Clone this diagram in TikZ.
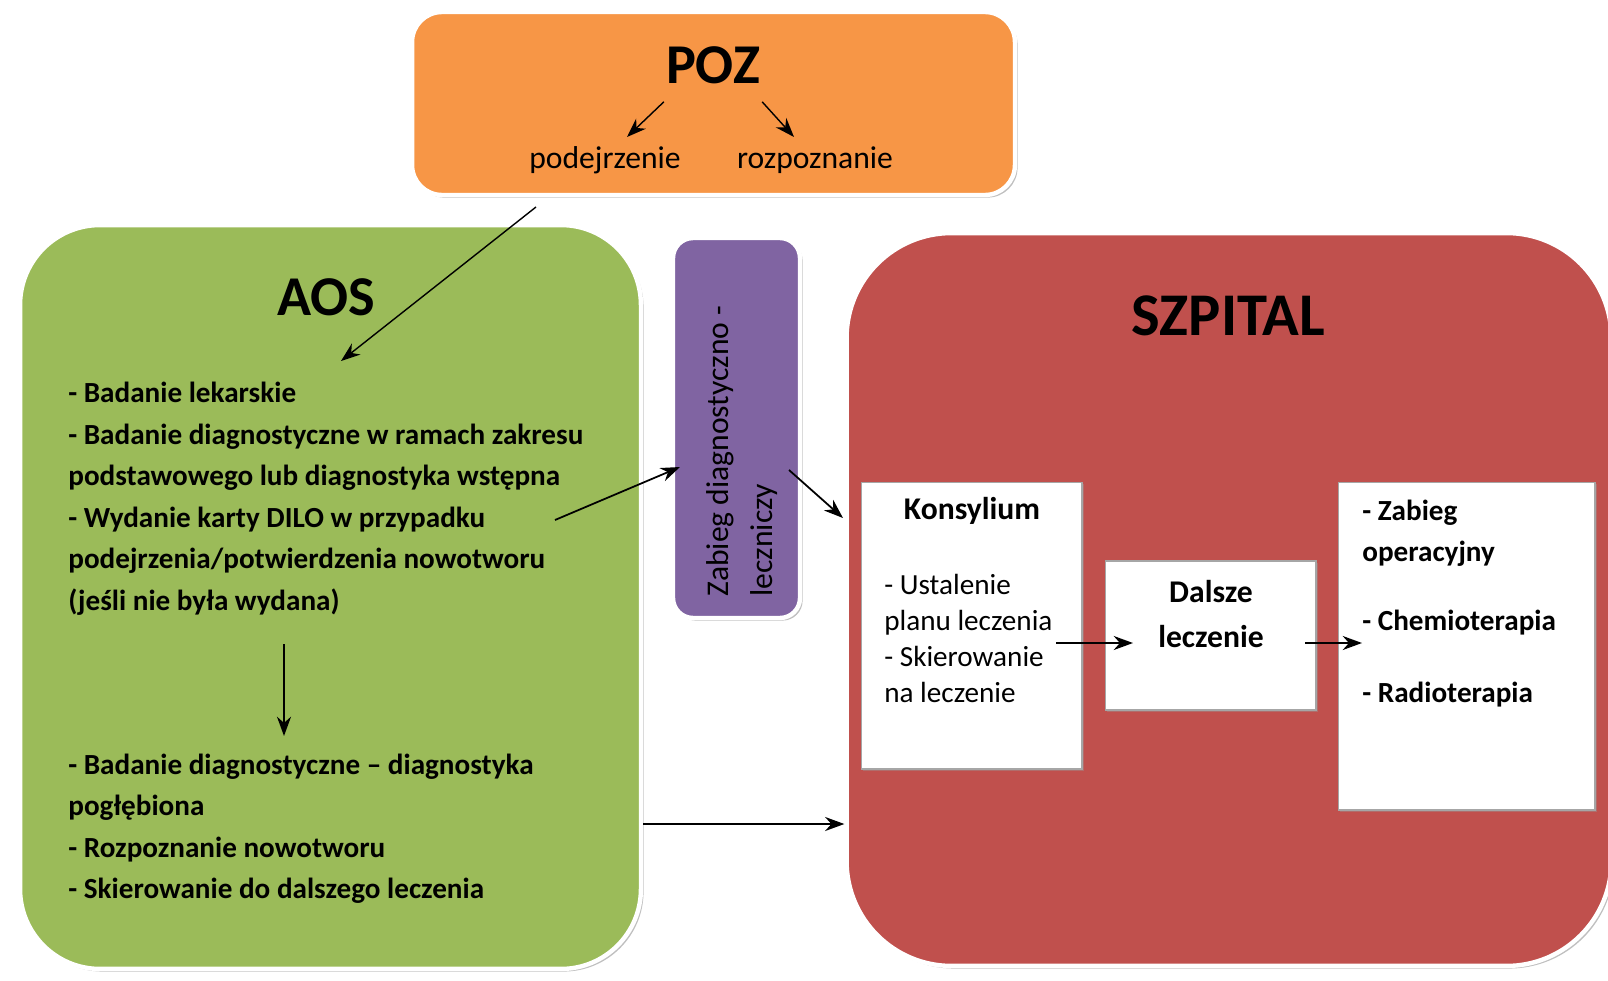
\documentclass[tikz,border=0pt]{standalone}
\usepackage{fontspec}
\setmainfont{Carlito}
\usepackage{tikz}
\usetikzlibrary{shadows,arrows.meta}
\definecolor{pozorange}{HTML}{F79646}
\definecolor{aosgreen}{HTML}{9BBB59}
\definecolor{szpred}{HTML}{C0504D}
\definecolor{zabpurple}{HTML}{8064A2}

\begin{document}
\begin{tikzpicture}[x = 0.02cm, y = -0.02cm,
		box/.style = {rounded corners = #1, draw = white, line width = 2.5pt,
			drop shadow = {shadow xshift = 1.5pt, shadow yshift = -1.5pt, fill = black!50, opacity = 0.5}},
		inbox/.style = {draw = black!35, line width = 0.6pt, fill = white,
			drop shadow = {shadow xshift = 1pt, shadow yshift = -1pt, fill = black!40, opacity = 0.4}},
		title/.style = {font = \fontsize{32}{36}\selectfont\bfseries},
		arr/.style = {-{Stealth[length = 11pt, width = 8pt]}, line width = 1pt}]
		\clip (0,0) rectangle (1608,980);
		% POZ
		\node[box = 0.6cm, fill = pozorange, minimum width = 12.06cm, minimum height = 3.66cm] (poz) at (713.5,103.5) {};
		\node[title] (poztitle) at (713,65) {POZ};
		\node[font = \fontsize{18}{21}\selectfont] (podej) at (605,160) {podejrzenie};
		\node[font = \fontsize{18}{21}\selectfont] (rozp) at (815,160) {rozpoznanie};
		\coordinate (podejin) at (627,137);
		\coordinate (rozpin) at (794,137);
		\draw[arr, line width = 0.8pt] (poztitle.south west) ++(4,12) -- (podejin);
		\draw[arr, line width = 0.8pt] (poztitle.south east) ++(-4,12) -- (rozpin);
		% AOS
		\node[box = 1.6cm, fill = aosgreen, minimum width = 12.42cm, minimum height = 14.88cm] (aos) at (330.5,597) {};
		\node[title] (aostitle) at (326,297) {AOS};
		\node[anchor = north west, align = left, inner sep = 0pt, font = \fontsize{16.6}{23.6}\selectfont\bfseries] (aoslist) at (68,382)
			{- Badanie lekarskie\\- Badanie diagnostyczne w ramach zakresu\\podstawowego lub diagnostyka wstępna\\- Wydanie karty DILO w przypadku\\podejrzenia/potwierdzenia nowotworu\\(jeśli nie była wydana)};
		\node[anchor = north west, align = left, inner sep = 0pt, font = \fontsize{16.6}{23.4}\selectfont\bfseries] (aoslist2) at (68,754)
			{- Badanie diagnostyczne -- diagnostyka\\pogłębiona\\- Rozpoznanie nowotworu\\- Skierowanie do dalszego leczenia};
		% zabieg
		\node[box = 0.4cm, fill = zabpurple, minimum width = 2.54cm, minimum height = 7.6cm] (zab) at (736.5,428) {};
		\node[rotate = 90, anchor = west, align = left, inner sep = 0pt, font = \fontsize{18}{25}\selectfont] (zabtext) at (742,597)
			{Zabieg diagnostyczno -\\leczniczy};
		% SZPITAL
		\node[box = 2.1cm, fill = szpred, minimum width = 15.3cm, minimum height = 14.66cm] (szp) at (1229,599.5) {};
		\node[title, font = \fontsize{34.5}{38}\selectfont\bfseries] (szptitle) at (1228,316) {SZPITAL};
		\node[inbox, minimum width = 4.42cm, minimum height = 5.74cm] (konsbox) at (971.5,625.5) {};
		\node[font = \fontsize{18}{21}\selectfont\bfseries] (kons) at (972,511) {Konsylium};
		\node[anchor = north west, align = left, inner sep = 0pt, font = \fontsize{16.6}{20.4}\selectfont] (konslist) at (884,574)
			{- Ustalenie\\planu leczenia\\- Skierowanie\\na leczenie};
		\node[inbox, minimum width = 4.22cm, minimum height = 2.98cm] (dalbox) at (1210.5,635.5) {};
		\node[align = center, font = \fontsize{18}{25.5}\selectfont\bfseries] (dal) at (1211,614) {Dalsze\\leczenie};
		\node[inbox, minimum width = 5.14cm, minimum height = 6.56cm] (terbox) at (1466.5,646) {};
		\node[anchor = north west, align = left, inner sep = 0pt, font = \fontsize{16.6}{23.2}\selectfont\bfseries] (terlist) at (1362,500)
			{- Zabieg\\operacyjny\\[16pt]- Chemioterapia\\[18pt]- Radioterapia};
		% arrows
		\coordinate (pozout) at (536,207);
		\coordinate (aosin) at (341,361);
		\coordinate (list1out) at (555,520);
		\coordinate (zabin) at (680,467);
		\coordinate (zabout) at (789,470);
		\coordinate (szpin) at (843,518);
		\coordinate (downa) at (284,644);
		\coordinate (downb) at (284,736);
		\coordinate (list2out) at (643,824);
		\coordinate (konsout) at (1056,643);
		\coordinate (dalin) at (1133,643);
		\coordinate (dalout) at (1305,643);
		\coordinate (terin) at (1362,643);
		\draw[arr, line width = 0.8pt] (pozout) -- (aosin);
		\draw[arr] (list1out) -- (zabin);
		\draw[arr] (zabout) -- (szpin);
		\draw[arr] (downa) -- (downb);
		\draw[arr] (list2out) -- (list2out -| szp.west);
		\draw[arr] (konsout) -- (dalin);
		\draw[arr] (dalout) -- (terin);
\end{tikzpicture}
\end{document}
